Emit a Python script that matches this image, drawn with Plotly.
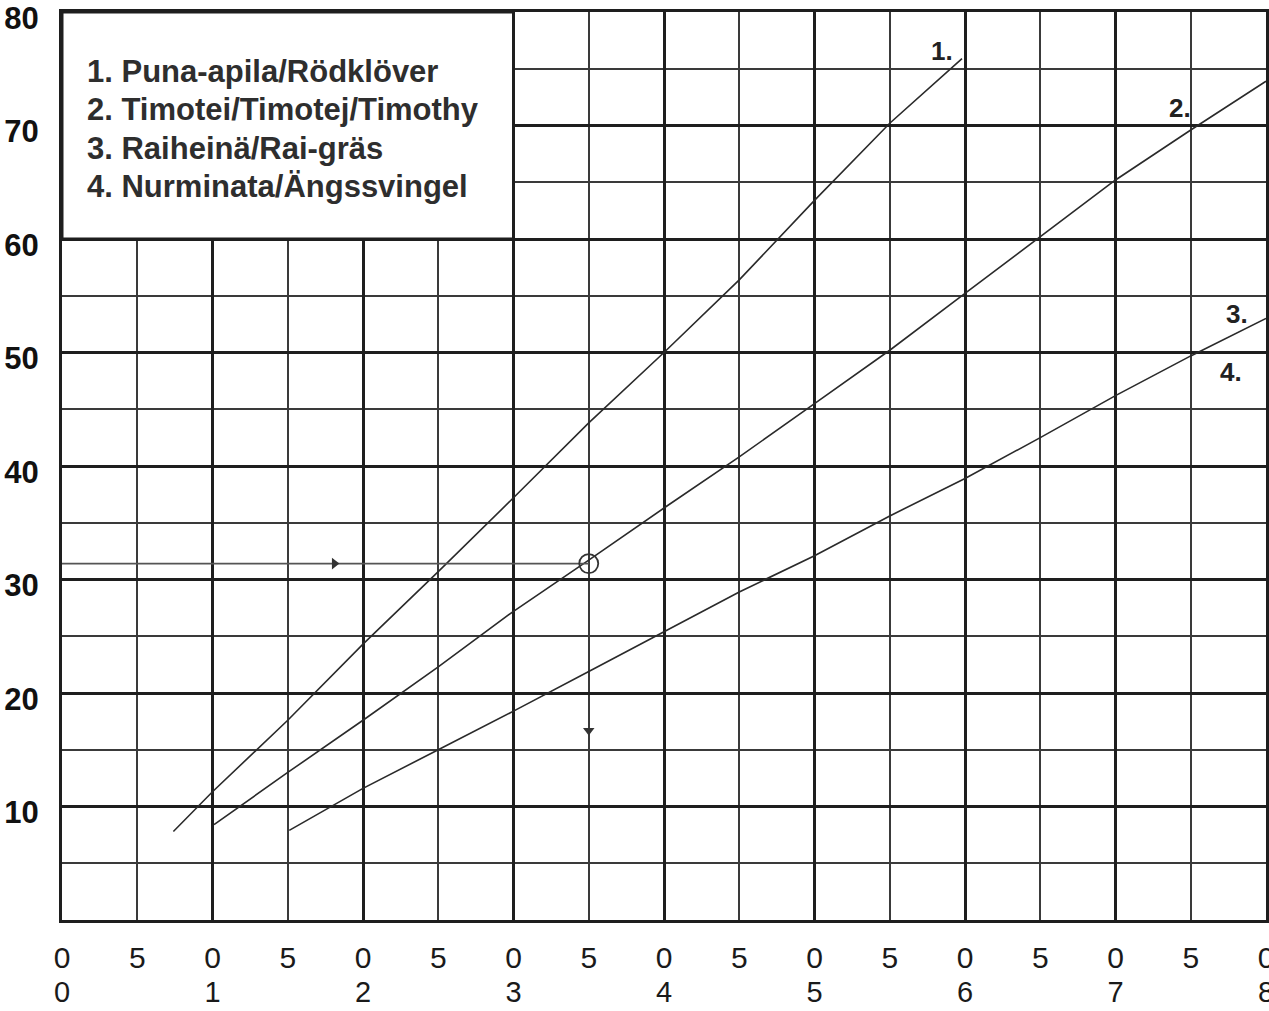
import plotly.graph_objects as go

# ---------------- data ----------------
# x labels are two-row: units digit (top row) over tens digit (bottom row)
x_tens_vals = [0, 10, 20, 30, 40, 50, 60, 70, 80]
x_tens_top = ["0", "0", "0", "0", "0", "0", "0", "0", "0"]
x_tens_bottom = ["0", "1", "2", "3", "4", "5", "6", "7", "8"]
x_half_vals = [5, 15, 25, 35, 45, 55, 65, 75]
x_half_text = ["5", "5", "5", "5", "5", "5", "5", "5"]
y_vals = [10, 20, 30, 40, 50, 60, 70, 80]
y_text = ["10", "20", "30", "40", "50", "60", "70", "80"]

# curve 1: Puna-apila / Rödklöver
c1_x = [7.4, 10, 15, 20, 25, 30, 35, 40, 45, 50, 55, 59.8]
c1_y = [7.8, 11.3, 17.6, 24.3, 30.7, 37.2, 43.8, 50.0, 56.4, 63.4, 70.2, 75.9]
# curve 2: Timotei / Timotej / Timothy
c2_x = [10.1, 15, 20, 25, 30, 35, 40, 45, 50, 55, 60, 65, 70, 75, 80]
c2_y = [8.4, 13.0, 17.6, 22.3, 27.2, 31.7, 36.3, 40.8, 45.5, 50.2, 55.2, 60.2, 65.2, 69.6, 73.9]
# curve 3/4: Raiheinä / Rai-gräs and Nurminata / Ängssvingel (same curve)
c3_x = [15.1, 20, 25, 30, 35, 40, 45, 50, 55, 60, 65, 70, 75, 80]
c3_y = [7.9, 11.6, 15.0, 18.4, 21.9, 25.4, 28.9, 32.1, 35.6, 38.9, 42.5, 46.2, 49.7, 53.0]

# example reading (arrow path and circle)
ex_line_x = [0, 35]
ex_line_y = [31.4, 31.4]
ex_point = (35, 31.4)
ex_arrow_right = (18.1, 31.4)
ex_arrow_down = (35, 16.7)

# curve number labels
curve_labels = ["1.", "2.", "3.", "4."]
curve_label_x = [58.5, 74.3, 78.1, 77.7]
curve_label_y = [76.6, 71.5, 53.4, 48.3]

# legend box text
legend_lines = ["1. Puna-apila/Rödklöver",
                "2. Timotei/Timotej/Timothy",
                "3. Raiheinä/Rai-gräs",
                "4. Nurminata/Ängssvingel"]

# ---------------- styling ----------------
FONT = "Liberation Sans, Arial, Helvetica, sans-serif"
GRID_DARK = "#1e1e1e"
GRID_THIN = "#3a3a3a"
LINE_COL = "#2a2a2a"
TICK_FONT = dict(family=FONT, size=30, color="#1a1a1a")

fig = go.Figure()
for xs, ys in [(c1_x, c1_y), (c2_x, c2_y), (c3_x, c3_y)]:
    fig.add_trace(go.Scatter(x=xs, y=ys, mode="lines",
                             line=dict(color=LINE_COL, width=1.6),
                             showlegend=False, hoverinfo="skip"))

# example reading path
fig.add_trace(go.Scatter(x=ex_line_x, y=ex_line_y, mode="lines",
                         line=dict(color="#555555", width=1.6),
                         showlegend=False, hoverinfo="skip"))
fig.add_trace(go.Scatter(x=[ex_point[0]], y=[ex_point[1]], mode="markers",
                         marker=dict(symbol="circle-open", size=19,
                                     color="#333333", line=dict(width=1.8)),
                         showlegend=False, hoverinfo="skip"))
fig.add_trace(go.Scatter(x=[ex_arrow_right[0]], y=[ex_arrow_right[1]], mode="markers",
                         marker=dict(symbol="triangle-right", size=10, color="#333333"),
                         showlegend=False, hoverinfo="skip"))
fig.add_trace(go.Scatter(x=[ex_arrow_down[0]], y=[ex_arrow_down[1]], mode="markers",
                         marker=dict(symbol="triangle-down", size=10, color="#333333"),
                         showlegend=False, hoverinfo="skip"))

# invisible traces so the secondary label axes are rendered
for ax in ["x2", "x3"]:
    fig.add_trace(go.Scatter(x=[0, 80], y=[0, 0], xaxis=ax, mode="markers",
                             marker=dict(opacity=0), showlegend=False, hoverinfo="skip"))

# legend box (covers grid in the upper-left cells)
LEG_X0, LEG_X1, LEG_Y0, LEG_Y1 = 0, 30, 60, 80
fig.add_shape(type="rect", xref="x", yref="y", x0=LEG_X0, x1=LEG_X1, y0=LEG_Y0, y1=LEG_Y1,
              fillcolor="white", line=dict(color=GRID_DARK, width=3), layer="above")

leg_top_y = 74.8
leg_step = 3.4
for i, t in enumerate(legend_lines):
    fig.add_annotation(x=1.5, y=leg_top_y - i * leg_step, xref="x", yref="y",
                       text=t, showarrow=False, xanchor="left", yanchor="middle",
                       font=dict(family=FONT, size=31, color="#2e2e2e", weight="bold"))

for t, lx, ly in zip(curve_labels, curve_label_x, curve_label_y):
    fig.add_annotation(x=lx, y=ly, xref="x", yref="y", text=t, showarrow=False,
                       xanchor="center", yanchor="middle",
                       font=dict(family=FONT, size=26, color="#222222", weight="bold"))

label_axis = dict(range=[0, 80], overlaying="x", anchor="y", side="bottom",
                  tickmode="array", showgrid=False, zeroline=False, showline=False,
                  ticks="", automargin=False, ticklabeloverflow="allow",
                  tickfont=TICK_FONT)

fig.update_layout(
    width=1269, height=1011,
    margin=dict(l=62, r=3, t=12, b=91),
    paper_bgcolor="white", plot_bgcolor="white",
    showlegend=False,
    xaxis=dict(range=[0, 80], tickmode="array", tickvals=x_tens_vals, ticktext=x_tens_top,
               showgrid=True, gridcolor=GRID_DARK, gridwidth=3,
               minor=dict(dtick=5, tick0=0, showgrid=True, gridcolor=GRID_THIN, gridwidth=2),
               zeroline=False, showline=True, linecolor=GRID_DARK, linewidth=3, mirror=True,
               ticks="", ticklabelstandoff=9, automargin=False, ticklabeloverflow="allow",
               tickfont=TICK_FONT),
    xaxis2=dict(label_axis, tickvals=x_half_vals, ticktext=x_half_text, ticklabelstandoff=17),
    xaxis3=dict(label_axis, tickvals=x_tens_vals, ticktext=x_tens_bottom, ticklabelstandoff=52,
                tickfont=dict(family=FONT, size=29, color="#1a1a1a")),
    yaxis=dict(range=[0, 80], tickmode="array", tickvals=y_vals, ticktext=y_text,
               showgrid=True, gridcolor=GRID_DARK, gridwidth=3,
               minor=dict(dtick=5, tick0=0, showgrid=True, gridcolor=GRID_THIN, gridwidth=2),
               zeroline=False, showline=True, linecolor=GRID_DARK, linewidth=3, mirror=True,
               ticks="", ticklabelstandoff=14, ticklabelshift=6, automargin=False,
               ticklabeloverflow="allow",
               tickfont=dict(family=FONT, size=31, color="#111111", weight="bold")),
)

fig.write_html("out.html", config={"displayModeBar": False},
               post_script="document.body.style.margin='0';")
